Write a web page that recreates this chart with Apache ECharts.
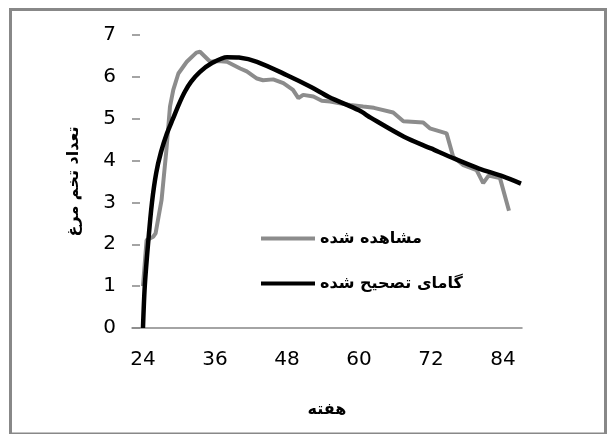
<!DOCTYPE html>
<html>
<head>
<meta charset="utf-8">
<script src="https://cdn.jsdelivr.net/npm/echarts@6/dist/echarts.min.js"></script>
<style>html,body{margin:0;padding:0;background:#fff;overflow:hidden}#c{width:608px;height:434px}</style>
</head>
<body>
<div id="c"></div>
<script>
// Observed series (week, eggs)
var observedWeeks = [24, 24.6, 25.7, 26.1, 27.1, 27.9, 28.5, 29.05, 29.9, 31.3, 32.9, 33.5, 33.8, 35.2, 36.5, 38, 40.2, 41.3, 43, 44, 45.7, 47.4, 49, 49.9, 50.7, 52.4, 53.8, 55.2, 56.8, 58.5, 60.7, 62.5, 65.7, 67.4, 70.7, 71.8, 74.6, 75.7, 77.4, 79.6, 80.7, 81.6, 83.5, 85];
var observedValues = [1.0, 2.1, 2.18, 2.26, 3.06, 4.25, 5.29, 5.69, 6.08, 6.36, 6.58, 6.6, 6.56, 6.36, 6.38, 6.36, 6.2, 6.13, 5.96, 5.92, 5.94, 5.85, 5.69, 5.49, 5.57, 5.53, 5.43, 5.41, 5.37, 5.33, 5.29, 5.26, 5.15, 4.94, 4.91, 4.77, 4.65, 4.09, 3.89, 3.77, 3.46, 3.64, 3.58, 2.8];
// Gamma fitted series
var gammaWeeks = [24, 24.3, 24.9, 25.5, 26.2, 27, 28, 29, 30, 31, 32, 33.5, 35.5, 38, 40, 43, 48, 52, 55, 60, 62, 67.5, 72, 76, 80, 84, 87];
var gammaValues = [0, 1.0, 2.1, 3.0, 3.7, 4.2, 4.65, 5.0, 5.35, 5.65, 5.88, 6.12, 6.33, 6.47, 6.46, 6.36, 6.04, 5.76, 5.52, 5.2, 5.02, 4.57, 4.29, 4.04, 3.81, 3.62, 3.45];
var xTickLabels = [24, 36, 48, 60, 72, 84];
var seriesNames = ['مشاهده شده', 'گامای تصحیح شده'];
var xTitle = 'هفته';
var yTitle = 'تعداد تخم مرغ';

function pairs(xs, ys) { return xs.map(function (x, i) { return [x, ys[i]]; }); }

var chart = echarts.init(document.getElementById('c'));
var font = 'DejaVu Sans';
chart.setOption({
  animation: false,
  backgroundColor: '#fff',
  grid: [
    { left: 132, right: 86, top: 35, bottom: 106 },
    { show: true, left: 10.5, top: 9.5, width: 595, height: 700, borderColor: '#888', borderWidth: 3, backgroundColor: 'transparent', z: 0 }
  ],
  legend: {
    orient: 'vertical',
    left: 256,
    top: 224,
    itemWidth: 54,
    itemHeight: 4,
    itemGap: 26,
    icon: 'rect',
    textStyle: { fontFamily: font, fontSize: 16, fontWeight: 'bold', color: '#000', lineHeight: 19 },
    data: [
      { name: seriesNames[0], itemStyle: { color: '#8c8c8c' } },
      { name: seriesNames[1], itemStyle: { color: '#000' } }
    ]
  },
  xAxis: [{
    type: 'value',
    min: 22.17,
    max: 87.17,
    name: xTitle,
    nameLocation: 'middle',
    nameGap: 74,
    nameTextStyle: { fontFamily: font, fontSize: 16, fontWeight: 'bold', color: '#000' },
    axisLine: { show: true, lineStyle: { color: '#868686', width: 1.5 } },
    axisTick: { show: false },
    splitLine: { show: false },
    axisLabel: { customValues: xTickLabels, fontFamily: font, fontSize: 20, color: '#000', margin: 22 }
  }, {
    gridIndex: 1, type: 'value', min: 0, max: 1, show: false
  }],
  yAxis: [{
    type: 'value',
    min: 0,
    max: 7,
    interval: 1,
    name: yTitle,
    nameLocation: 'middle',
    nameGap: 50,
    nameRotate: 90,
    nameTextStyle: { fontFamily: font, fontSize: 16, fontWeight: 'bold', color: '#000' },
    axisLine: { show: false },
    axisTick: { show: true, inside: true, length: 8, lineStyle: { color: '#868686', width: 1.5 } },
    splitLine: { show: false },
    axisLabel: { fontFamily: font, fontSize: 20, color: '#000', margin: 16 }
  }, {
    gridIndex: 1, type: 'value', min: 0, max: 1, show: false
  }],
  series: [
    {
      name: seriesNames[0], type: 'line', symbol: 'none',
      lineStyle: { color: '#8c8c8c', width: 4 }, itemStyle: { color: '#8c8c8c' },
      data: pairs(observedWeeks, observedValues), z: 2
    },
    {
      name: seriesNames[1], type: 'line', symbol: 'none', smooth: 0.3,
      lineStyle: { color: '#000', width: 4.5 }, itemStyle: { color: '#000' },
      data: pairs(gammaWeeks, gammaValues), z: 3
    }
  ]
});
</script>
</body>
</html>
